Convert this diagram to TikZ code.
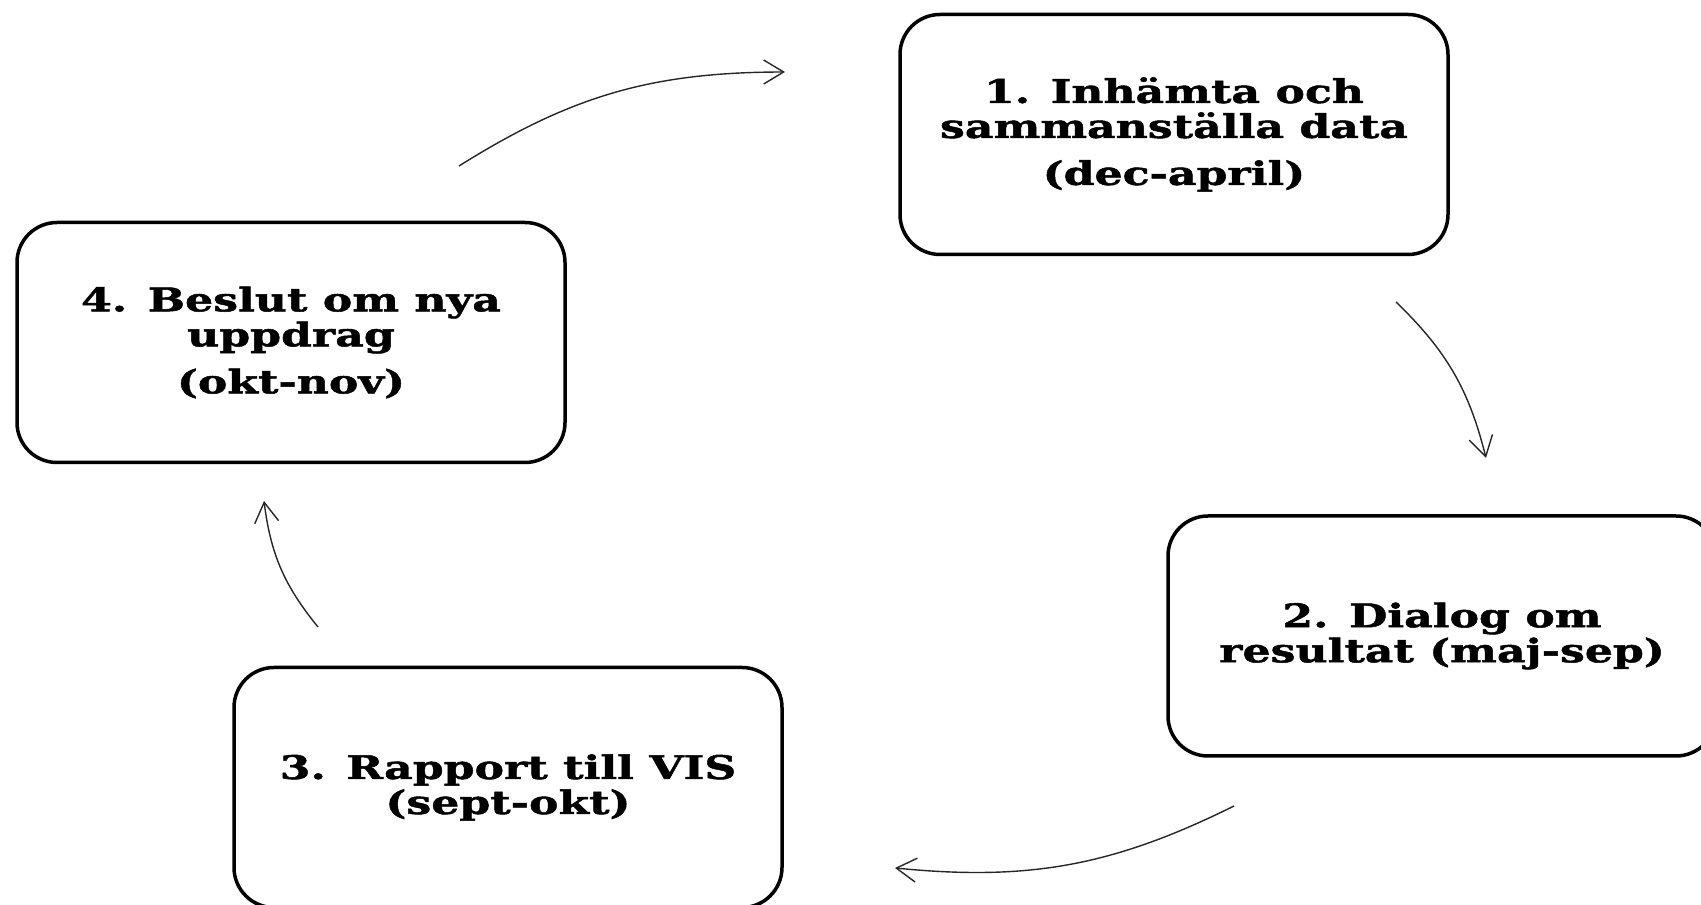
\documentclass[tikz,border=0pt]{standalone}
\usepackage{fontspec}
\setmainfont{DejaVu Serif}[FakeStretch=1.36, BoldFeatures={FakeBold=1.5}]
\usetikzlibrary{arrows.meta}
\begin{document}
\begin{tikzpicture}[x=1pt,y=1pt,
  stepbox/.style={draw, line width=3.5pt, rounded corners=40pt,
    minimum width=548pt, minimum height=240pt, align=center, inner sep=0pt,
    font=\bfseries\fontsize{32.5}{35}\selectfont},
  arr/.style={-{Straight Barb[length=20pt,width=24pt]}, line width=1.4pt, draw=black!85, bend left=16}]
\useasboundingbox (0,0) rectangle (1701,905);
\node[stepbox] (b1) at (1174,770.5) {1. Inhämta och\\sammanställa data\\[12pt](dec-april)};
\node[stepbox] (b2) at (1442,269) {2. Dialog om\\resultat (maj-sep)};
\node[stepbox] (b3) at (508,117.5) {3. Rapport till VIS\\(sept-okt)};
\node[stepbox] (b4) at (291,562.5) {4. Beslut om nya\\uppdrag\\[12pt](okt-nov)};
\coordinate (a41s) at (459,739);
\coordinate (a41e) at (785,833);
\coordinate (a12s) at (1396,603);
\coordinate (a12e) at (1486,447);
\coordinate (a23s) at (1234,99);
\coordinate (a23e) at (895,37);
\coordinate (a34s) at (318,278);
\coordinate (a34e) at (264,404);
\draw[arr] (a41s) to (a41e);
\draw[arr] (a12s) to (a12e);
\draw[arr] (a23s) to (a23e);
\draw[arr] (a34s) to (a34e);
\end{tikzpicture}
\end{document}
